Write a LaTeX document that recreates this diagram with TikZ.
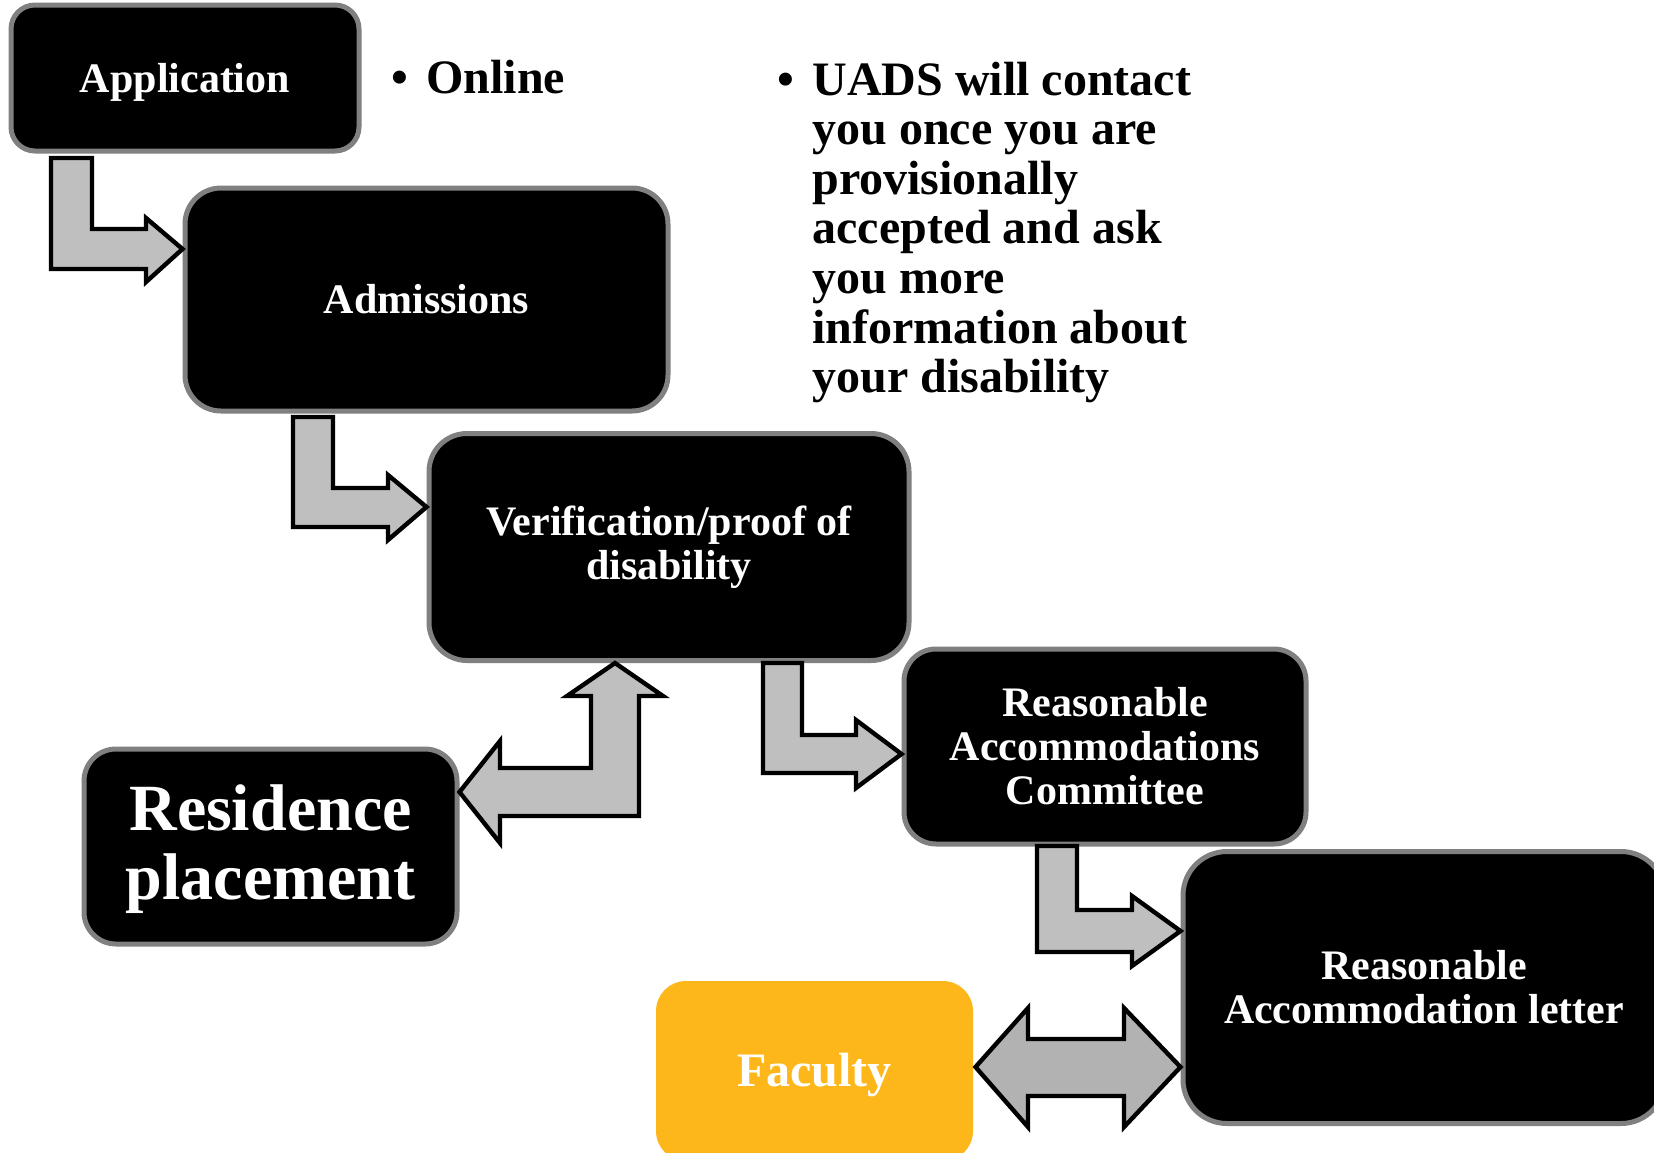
\documentclass[tikz,border=0pt]{standalone}
\usepackage{fontspec}
\setmainfont{Liberation Serif}
\usetikzlibrary{calc}
\definecolor{boxgray}{HTML}{808080}
\definecolor{arrowgray}{HTML}{BFBFBF}
\definecolor{arrowgrayd}{HTML}{B2B2B2}
\definecolor{facultycol}{HTML}{FDB71A}
\newcommand{\lowerby}[2]{\raisebox{-#1}[\height][\depth]{#2}}
\begin{document}
\begin{tikzpicture}[x=0.5pt,y=-0.5pt,
  box/.style={draw=boxgray, line width=2.5pt, fill=black, text=white, align=center,
    inner sep=0pt, font=\bfseries\fontsize{21}{22}\selectfont},
  blockarrow/.style={draw=black, line width=2.2pt, fill=arrowgray, line join=miter},
  bullettext/.style={anchor=base west, inner sep=0pt, font=\bfseries\fontsize{24}{24.8}\selectfont}]
\useasboundingbox (0,0) rectangle (1654,1152);
\clip (0,0) rectangle (1654,1152);

% boxes
\node[box, minimum width=174pt, minimum height=73pt, rounded corners=12pt] (app) at (185,78) {\lowerby{2pt}{Application}};
\node[box, minimum width=241.5pt, minimum height=111.5pt, rounded corners=18pt] (adm) at (426.5,299.5) {Admissions};
\node[box, minimum width=240pt, minimum height=113.5pt, rounded corners=19pt] (ver) at (669,547) {Verification/proof of\\disability};
\node[box, minimum width=201pt, minimum height=97.5pt, rounded corners=16pt] (rac) at (1105,746.5) {Reasonable\\Accommodations\\Committee};
\node[box, minimum width=241pt, minimum height=136pt, rounded corners=22pt] (letter) at (1424,987.5) {Reasonable\\Accommodation letter};
\node[box, minimum width=186.5pt, minimum height=97.5pt, rounded corners=16pt,
  font=\bfseries\fontsize{33}{34.5}\selectfont] (res) at (270.5,846.5) {\lowerby{1.5pt}{Residence}\\\lowerby{1.5pt}{placement}};
\node[box, draw=none, fill=facultycol, minimum width=158.5pt, minimum height=90pt, rounded corners=15pt,
  font=\bfseries\fontsize{24}{26}\selectfont] (fac) at (814.5,1071) {\lowerby{2pt}{Faculty}};

% side texts
\node[bullettext] (online) at (391,93) {\makebox[17.5pt][l]{•}Online};
\node[bullettext] (uads) at (777,95) {\begin{tabular}[t]{@{}l@{}l@{}}
\makebox[17.5pt][l]{•} & UADS will contact\\
 & you once you are\\
 & provisionally\\
 & accepted and ask\\
 & you more\\
 & information about\\
 & your disability
\end{tabular}};

% bent arrows
\draw[blockarrow] (51,158) -- (92,158) -- (92,229) -- (146,229) -- (146,218)
  -- (adm.west |- 0,249) -- (146,282) -- (146,269) -- (51,269) -- cycle;
\draw[blockarrow] (293,417) -- (333,417) -- (333,488) -- (388,488) -- (388,475)
  -- (ver.west |- 0,507) -- (388,540) -- (388,527) -- (293,527) -- cycle;
\draw[blockarrow] (763,663) -- (802,663) -- (802,735) -- (856,735) -- (856,720)
  -- (rac.west |- 0,754) -- (856,788) -- (856,773) -- (763,773) -- cycle;
\draw[blockarrow] (1037,846) -- (1077,846) -- (1077,910) -- (1132,910) -- (1132,896)
  -- (letter.west |- 0,931) -- (1132,966) -- (1132,952) -- (1037,952) -- cycle;

% bidirectional bent arrow residence <-> verification
\draw[blockarrow] (615,0 |- ver.south) -- (663,696) -- (639,696) -- (639,816) -- (500,816)
  -- (500,843) -- (res.east |- 0,792) -- (500,741) -- (500,768) -- (591,768) -- (591,696)
  -- (567,696) -- cycle;

% double arrow faculty <-> letter
\draw[blockarrow, fill=arrowgrayd] (fac.east |- 0,1067) -- (1028,1008) -- (1028,1039) -- (1124,1039)
  -- (1124,1008) -- (letter.west |- 0,1067) -- (1124,1127) -- (1124,1096) -- (1028,1096)
  -- (1028,1127) -- cycle;
\end{tikzpicture}
\end{document}
